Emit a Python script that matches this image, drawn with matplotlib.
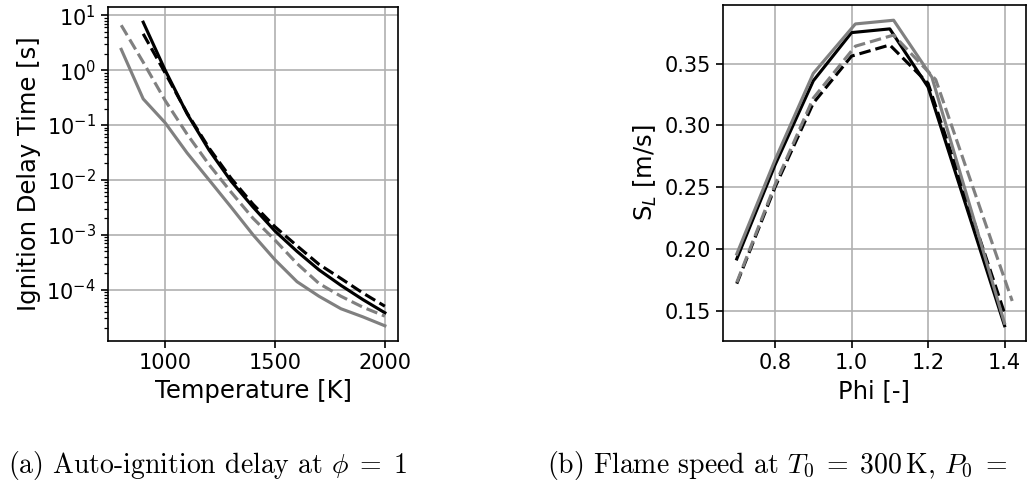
import numpy as np
import matplotlib
matplotlib.use("Agg")
import matplotlib.pyplot as plt
from matplotlib.ticker import LogLocator, NullFormatter

# Ignition delay data (s)
T_black = [900, 1000, 1100, 1200, 1300, 1400, 1500, 1600, 1700, 1800, 1900, 2000]
T_gray = [800, 900, 1000, 1100, 1200, 1300, 1400, 1500, 1600, 1700, 1800, 1900, 2000]
tau_black_solid = [7.5, 1.0, 0.16, 0.035, 9.5e-3, 3.2e-3, 1.17e-3, 5.0e-4, 2.3e-4, 1.2e-4, 6.6e-5, 3.8e-5]
tau_black_dash = [4.6, 0.89, 0.165, 0.038, 1.07e-2, 3.6e-3, 1.4e-3, 6.3e-4, 2.9e-4, 1.6e-4, 8.7e-5, 5.0e-5]
tau_gray_solid = [2.4, 0.30, 0.11, 0.031, 1.0e-2, 3.2e-3, 1.0e-3, 3.5e-4, 1.4e-4, 7.6e-5, 4.5e-5, 3.2e-5, 2.2e-5]
tau_gray_dash = [6.6, 1.4, 0.28, 0.068, 0.019, 6.0e-3, 2.0e-3, 8.0e-4, 3.0e-4, 1.3e-4, 7.6e-5, 4.8e-5, 3.3e-5]

# Flame speed data (m/s)
phi_black_solid = [0.7, 0.8, 0.9, 1.0, 1.1, 1.2, 1.4]
phi_black_dash = [0.7, 0.8, 0.9, 1.0, 1.1, 1.2, 1.4]
phi_gray_solid = [0.7, 0.8, 0.9, 1.01, 1.11, 1.21, 1.4]
phi_gray_dash = [0.7, 0.8, 0.9, 1.01, 1.11, 1.22, 1.42]
sl_black_solid = [0.192, 0.268, 0.336, 0.375, 0.378, 0.331, 0.138]
sl_black_dash = [0.172, 0.250, 0.318, 0.356, 0.365, 0.334, 0.148]
sl_gray_solid = [0.196, 0.272, 0.342, 0.382, 0.385, 0.339, 0.140]
sl_gray_dash = [0.173, 0.252, 0.322, 0.364, 0.373, 0.337, 0.158]

GRAY = "#808080"

plt.rcParams.update({
    "font.size": 15,
    "axes.labelsize": 17.5,
    "lines.linewidth": 2.25,
    "axes.linewidth": 1.2,
    "grid.color": "#b0b0b0",
    "grid.linewidth": 1.2,
    "xtick.major.size": 5.25,
    "ytick.major.size": 5.25,
    "xtick.major.width": 1.2,
    "ytick.major.width": 1.2,
    "xtick.minor.size": 3.0,
    "ytick.minor.size": 3.0,
    "xtick.minor.width": 0.9,
    "ytick.minor.width": 0.9,
})

fig = plt.figure(figsize=(10.27, 4.86), dpi=100)

# (a) auto-ignition delay
ax1 = fig.add_axes([0.1052, 0.2984, 0.2824, 0.6872])
ax1.plot(T_black, tau_black_solid, "-", color="black")
ax1.plot(T_black, tau_black_dash, "--", color="black")
ax1.plot(T_gray, tau_gray_solid, "-", color=GRAY)
ax1.plot(T_gray, tau_gray_dash, "--", color=GRAY)
ax1.set_yscale("log")
ax1.yaxis.set_minor_locator(LogLocator(base=10, subs=np.arange(2, 10), numticks=30))
ax1.yaxis.set_minor_formatter(NullFormatter())
ax1.grid(True)
ax1.set_axisbelow(True)
ax1.set_xlabel("Temperature [K]")
ax1.set_ylabel("Ignition Delay Time [s]")

# (b) flame speed
ax2 = fig.add_axes([0.7040, 0.2984, 0.2950, 0.6914])
ax2.plot(phi_black_solid, sl_black_solid, "-", color="black")
ax2.plot(phi_black_dash, sl_black_dash, "--", color="black")
ax2.plot(phi_gray_solid, sl_gray_solid, "-", color=GRAY)
ax2.plot(phi_gray_dash, sl_gray_dash, "--", color=GRAY)
ax2.grid(True)
ax2.set_axisbelow(True)
ax2.set_xlabel("Phi [-]")
ax2.set_ylabel("S$_L$ [m/s]")

# captions
fig.text(0.008, 0.027, r"(a) Auto-ignition delay at $\phi \;=\; 1$",
         family="cmr10", math_fontfamily="cm", fontsize=20, va="baseline")
fig.text(0.533, 0.027, r"(b) Flame speed at $T_0 \;=\; 300\,\mathrm{K}$, $P_0 \;=$",
         family="cmr10", math_fontfamily="cm", fontsize=20, va="baseline")

fig.savefig("out.png", dpi=100)
